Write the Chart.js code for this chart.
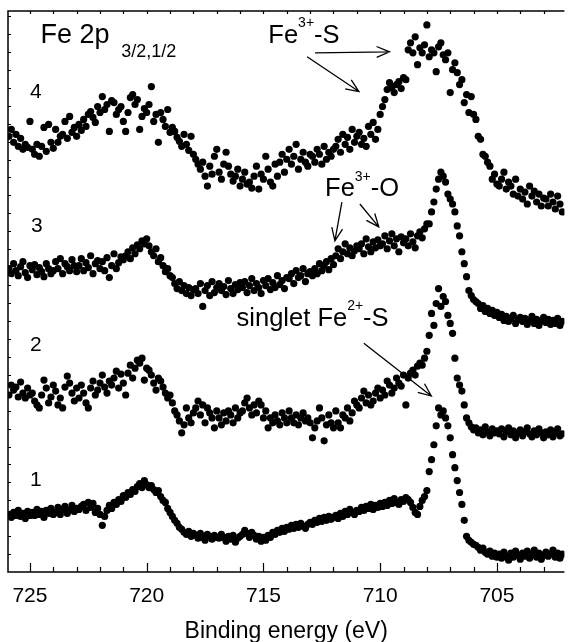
<!DOCTYPE html>
<html>
<head>
<meta charset="utf-8">
<script src="https://cdn.jsdelivr.net/npm/chart.js@4.4.0/dist/chart.umd.min.js"></script>
<style>
  html, body { margin: 0; padding: 0; background: #fff; }
  canvas { display: block; }
</style>
</head>
<body>
<canvas id="xps" width="568" height="642"></canvas>
<script>
// energy grid of the spectra (eV), 0.1 eV sampling from high to low BE
const ENERGY_START = 725.9;
const ENERGY_STEP = 0.1;

// intensities (a.u., stacked with offsets), one value per energy step
const spectrum1 = [
  58, 55, 60, 57, 62, 56, 59, 54, 61, 57,
  60, 57, 63, 58, 61, 55, 62, 59, 64, 58,
  60, 65, 58, 63, 66, 59, 62, 67, 61, 64,
  63, 66, 68, 62, 70, 65, 69, 60, 64, 58,
  47, 56, 62, 67, 64, 70, 68, 73, 71, 77,
  75, 80, 78, 83, 81, 86, 89, 85, 92, 88,
  85, 87, 83, 80, 82, 76, 72, 70, 64, 60,
  56, 52, 49, 45, 43, 40, 38, 41, 36, 39,
  37, 34, 39, 35, 32, 38, 36, 33, 37, 35,
  34, 38, 35, 31, 36, 33, 37, 30, 34, 36,
  38, 42, 39, 35, 40, 37, 33, 36, 31, 35,
  32, 37, 35, 40, 38, 42, 40, 44, 41, 45,
  43, 47, 44, 48, 45, 49, 46, 44, 48, 50,
  48, 52, 50, 54, 51, 55, 52, 56, 53, 55,
  57, 54, 59, 56, 61, 58, 63, 60, 58, 62,
  61, 65, 62, 66, 64, 68, 63, 67, 65, 69,
  66, 70, 67, 72, 69, 74, 70, 68, 73, 71,
  75, 73, 70, 65, 60, 58, 66, 72, 76, 82,
  101, 113, 128, 147, 165, 158, 162, 155, 147, 135,
  118, 105, 92, 80, 68, 52, 36, 32, 30, 28,
  27, 25, 22, 24, 20, 18, 21, 16, 19, 15,
  18, 14, 20, 16, 12, 19, 15, 21, 17, 13,
  19, 16, 21, 14, 18, 22, 15, 19, 13, 17,
  20, 16, 18, 22, 15, 19, 14, 18
];

const spectrum2 = [
  178, 188, 183, 186, 176, 191, 180, 175, 185, 178,
  180, 172, 168, 165, 178, 193, 185, 170, 176, 188,
  182, 168, 175, 165, 186, 197, 190, 180, 172, 185,
  175, 188, 180, 170, 165, 185, 192, 178, 183, 190,
  198, 186, 180, 192, 188, 195, 202, 185, 199, 190,
  178, 200, 208, 195, 205, 213, 210, 215, 193, 205,
  203, 198, 190, 183, 195, 192, 186, 180, 175, 178,
  170, 162, 158, 152, 140, 148, 165, 155, 150, 160,
  165, 172, 158, 168, 150, 165, 160, 155, 145, 162,
  155, 148, 160, 152, 162, 158, 150, 165, 155, 160,
  162, 170, 175, 165, 158, 168, 160, 172, 168, 155,
  162, 145, 155, 150, 158, 152, 148, 160, 155, 150,
  162, 155, 150, 158, 148, 155, 160, 152, 155, 150,
  135, 145, 152, 165, 155, 132, 148, 158, 150, 145,
  162, 150, 145, 158, 155, 165, 152, 160, 172, 168,
  165, 175, 182, 170, 178, 168, 172, 180, 185, 175,
  183, 178, 192, 188, 180, 185, 195, 190, 187, 198,
  168, 195, 200, 203, 198, 207, 210, 208, 215, 222,
  238, 260, 248, 270, 285, 267, 277, 272, 258, 250,
  240, 215, 195, 188, 182, 168, 155, 150, 146, 143,
  145, 140, 143, 138, 146, 141, 137, 144, 140, 142,
  139, 144, 136, 141, 145, 138, 142, 135, 140, 143,
  137, 141, 145, 139, 136, 142, 138, 144, 140, 135,
  141, 138, 143, 136, 140, 144, 137, 139
];

const spectrum3 = [
  305, 300, 310, 303, 298, 307, 312, 301, 296, 308,
  304, 309, 299, 306, 302, 297, 310, 305, 300, 303,
  312, 305, 315, 300, 310, 307, 303, 314, 308, 302,
  308, 315, 303, 311, 306, 318, 300, 310, 313, 305,
  312, 303, 316, 296, 308, 320, 305, 311, 317, 314,
  318, 322, 315, 326, 320, 329, 325, 333, 330, 335,
  328, 322, 318, 325, 312, 316, 308, 302, 305, 298,
  296, 290, 285, 292, 283, 288, 280, 286, 278, 284,
  285, 280, 290, 267, 283, 288, 278, 292, 281, 286,
  290, 283, 287, 279, 293, 285, 280, 289, 284, 291,
  286, 292, 281, 288, 295, 283, 290, 286, 280, 293,
  288, 295, 284, 291, 286, 298, 289, 293, 285, 296,
  295, 300, 290, 303, 296, 298, 305, 292, 300, 302,
  298, 305, 300, 310, 303, 308, 312, 304, 315, 309,
  318, 325, 315, 322, 330, 320, 326, 318, 323, 328,
  325, 330, 320, 335, 327, 322, 332, 326, 334, 328,
  330, 338, 325, 333, 340, 328, 335, 322, 337, 331,
  335, 328, 340, 332, 326, 338, 342, 336, 345, 350,
  350, 362, 372, 385, 395, 402, 398, 392, 380, 375,
  370, 362, 348, 338, 322, 310, 297, 283, 278, 274,
  272, 270, 265, 268, 262, 265, 260, 263, 258, 261,
  256, 259, 253, 257, 252, 255, 258, 250, 254, 256,
  252, 255, 249, 253, 257, 250, 254, 248, 252, 256,
  251, 254, 249, 253, 250, 255, 248, 252
];

const spectrum4 = [
  438, 445, 432, 440, 428, 436, 425, 430, 427, 453,
  425, 420, 430, 418, 428, 447, 423, 450, 432, 426,
  445, 432, 438, 440, 453, 436, 458, 442, 447, 438,
  450, 444, 455, 448, 460, 463, 457, 452, 468, 462,
  478, 465, 470, 443, 474, 472, 460, 465, 468, 453,
  443, 462, 477, 480, 470, 475, 445, 458, 466, 462,
  470, 488, 453, 460, 432, 462, 455, 448, 465, 442,
  447, 443, 437, 433, 428, 440, 430, 424, 438, 420,
  415, 410, 405, 412, 398, 388, 408, 400, 418, 425,
  402, 395, 410, 422, 408, 400, 393, 398, 405, 388,
  395, 402, 390, 392, 386, 398, 408, 385, 400, 395,
  418, 405, 392, 388, 410, 398, 412, 420, 402, 415,
  425, 410, 418, 430, 405, 415, 422, 412, 408, 420,
  418, 412, 425, 420, 410, 428, 415, 422, 418, 425,
  428, 435, 422, 440, 430, 437, 425, 445, 432, 438,
  442, 430, 436, 428, 448, 440, 452, 435, 445, 460,
  468, 475, 485, 492, 487, 482, 490, 493, 486, 497,
  495, 525, 532, 522, 538, 510, 527, 522, 530, 550,
  518, 525, 522, 503, 528, 532, 520, 515, 522, 482,
  505, 512, 502, 490, 495, 472, 480, 462, 478, 460,
  455, 438, 435, 420, 418, 412, 408, 395, 400, 390,
  388, 395, 402, 385, 392, 388, 380, 395, 378, 385,
  375, 382, 370, 388, 378, 383, 372, 380, 368, 376,
  375, 368, 380, 372, 365, 378, 370, 362
];

const xTicks = [705, 710, 715, 720, 725];
const xMinorStep = 1;
const yTickStep = 18.03;

const FONT = '"Liberation Sans", Arial, Helvetica, sans-serif';

// text labels placed in data units: [energy, intensity] of the text baseline start
const textLabels = [
  { at: [725.0, 477], parts: [['4', 21]] },
  { at: [724.96, 342], parts: [['3', 21]] },
  { at: [725.0, 222], parts: [['2', 21]] },
  { at: [725.0, 87], parts: [['1', 21]] },
  { at: [724.55, 532], parts: [['Fe 2p', 27]] },
  { at: [721.09, 518], parts: [['3/2,1/2', 18]] },
  { at: [714.79, 532], parts: [['Fe', 25.5], ['3+', 14, -16], ['-S', 25.5]] },
  { at: [712.36, 378], parts: [['Fe', 25.5], ['3+', 14, -15], ['-O', 25.5]] },
  { at: [716.15, 247], parts: [['singlet Fe', 25.5], ['2+', 14, -16], ['-S', 25.5]] }
];

// arrows: [fromE, fromI, toE, toI]
const arrows = [
  [712.79, 522, 709.60, 523],
  [713.13, 518, 710.91, 483],
  [711.64, 372, 711.94, 333],
  [710.87, 370, 710.06, 347],
  [710.70, 230, 707.81, 177]
];

const energies = spectrum1.map((_, i) => +(ENERGY_START - i * ENERGY_STEP).toFixed(2));
const toPoints = vals => vals.map((v, i) => ({ x: energies[i], y: v }));

const frame = {
  id: 'frame',
  afterDatasetsDraw(chart) {
    const { ctx, chartArea: a, scales: { x, y } } = chart;
    ctx.save();
    ctx.strokeStyle = '#000';
    ctx.lineWidth = 1.5;
    ctx.beginPath();
    ctx.moveTo(a.right, a.top);
    ctx.lineTo(a.left, a.top);
    ctx.lineTo(a.left, a.bottom);
    ctx.lineTo(a.right, a.bottom);
    ctx.stroke();

    ctx.lineWidth = 1.2;
    ctx.beginPath();
    for (let e = Math.ceil(x.min); e <= x.max; e += xMinorStep) {
      const px = Math.round(x.getPixelForValue(e)) + 0.5;
      const len = xTicks.includes(e) ? 9 : 5;
      ctx.moveTo(px, a.bottom);
      ctx.lineTo(px, a.bottom - len);
      ctx.moveTo(px, a.top);
      ctx.lineTo(px, a.top + 3);
    }
    for (let v = yTickStep; v < y.max; v += yTickStep) {
      const py = Math.round(y.getPixelForValue(v)) + 0.5;
      ctx.moveTo(a.left, py);
      ctx.lineTo(a.left + 3, py);
    }
    ctx.stroke();

    // arrows
    ctx.lineWidth = 1.3;
    arrows.forEach(([e1, i1, e2, i2]) => {
      const x1 = x.getPixelForValue(e1), y1 = y.getPixelForValue(i1);
      const x2 = x.getPixelForValue(e2), y2 = y.getPixelForValue(i2);
      const ang = Math.atan2(y2 - y1, x2 - x1);
      const head = 14, spread = 0.4;
      ctx.beginPath();
      ctx.moveTo(x1, y1);
      ctx.lineTo(x2, y2);
      ctx.moveTo(x2 - head * Math.cos(ang - spread), y2 - head * Math.sin(ang - spread));
      ctx.lineTo(x2, y2);
      ctx.lineTo(x2 - head * Math.cos(ang + spread), y2 - head * Math.sin(ang + spread));
      ctx.stroke();
    });

    // labels
    ctx.fillStyle = '#000';
    ctx.textBaseline = 'alphabetic';
    ctx.textAlign = 'left';
    textLabels.forEach(lbl => {
      let px = x.getPixelForValue(lbl.at[0]);
      const py = y.getPixelForValue(lbl.at[1]);
      lbl.parts.forEach(([txt, size, dy]) => {
        ctx.font = size + 'px ' + FONT;
        ctx.fillText(txt, px, py + (dy || 0));
        px += ctx.measureText(txt).width;
      });
    });
    ctx.restore();
  }
};

const dotStyle = {
  showLine: false,
  pointRadius: 3.6,
  pointHoverRadius: 3.6,
  pointBackgroundColor: '#000',
  pointBorderWidth: 0
};

new Chart(document.getElementById('xps').getContext('2d'), {
  type: 'scatter',
  data: {
    datasets: [
      { label: '1', data: toPoints(spectrum1), ...dotStyle },
      { label: '2', data: toPoints(spectrum2), ...dotStyle },
      { label: '3', data: toPoints(spectrum3), ...dotStyle },
      { label: '4', data: toPoints(spectrum4), ...dotStyle }
    ]
  },
  options: {
    responsive: false,
    animation: false,
    devicePixelRatio: 1,
    layout: { padding: { left: 8, top: 11, right: 0, bottom: 0 } },
    plugins: { legend: { display: false }, tooltip: { enabled: false } },
    scales: {
      x: {
        type: 'linear',
        reverse: true,
        min: 702.11,
        max: 725.94,
        afterBuildTicks: scale => { scale.ticks = xTicks.map(v => ({ value: v })); },
        grid: { display: false, drawTicks: false },
        border: { display: false },
        ticks: { color: '#000', font: { family: FONT, size: 21 }, padding: 12, maxRotation: 0, autoSkip: false },
        title: {
          display: true,
          text: 'Binding energy (eV)',
          color: '#000',
          font: { family: FONT, size: 23, lineHeight: 0.9 },
          padding: { top: 0, bottom: 0 }
        }
      },
      y: { display: false, min: 0, max: 564 }
    }
  },
  plugins: [frame]
});
</script>
</body>
</html>
